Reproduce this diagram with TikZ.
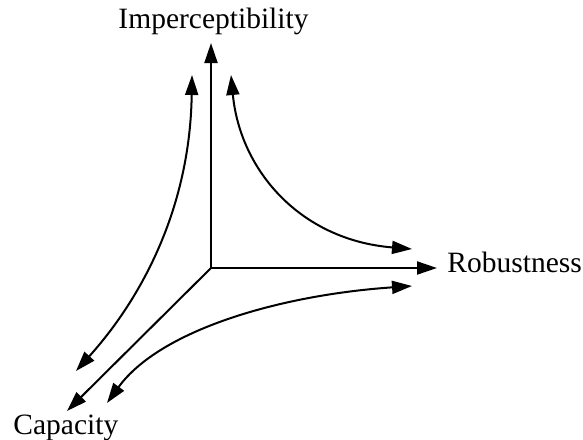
\documentclass[tikz,border=0pt]{standalone}
\usepackage{fontspec}
\setmainfont{Liberation Serif}
\usetikzlibrary{arrows.meta}

\begin{document}
\begin{tikzpicture}[x=0.5pt, y=-0.5pt,
    axis/.style={line width=1pt, -{Triangle[length=10pt, width=6.5pt]}},
    trade/.style={line width=1pt, {Triangle[length=10pt, width=6.5pt]}-{Triangle[length=10pt, width=6.5pt]}},
    label/.style={inner sep=0pt, font=\fontsize{14.75}{18}\selectfont}]

    \useasboundingbox (0,0) rectangle (583,439);

    \coordinate (O) at (211,268);
    \coordinate (top) at (211,43);
    \coordinate (right) at (437,268);
    \coordinate (corner) at (67,411);

    \node[label, anchor=base] (imp) at (213.5,28) {Imperceptibility};
    \node[label, anchor=base west] (rob) at (447,272) {Robustness};
    \node[label, anchor=base west] (cap) at (13,434) {Capacity};

    \draw[axis] (O) -- (top);
    \draw[axis] (O) -- (right);
    \draw[axis] (O) -- (corner);

    % trade-off curves
    \coordinate (a1) at (231,75);
    \coordinate (a2) at (412,249);
    \coordinate (b1) at (107,403);
    \coordinate (b2) at (412,286);
    \coordinate (c1) at (192,75);
    \coordinate (c2) at (76,371);
    \draw[trade] (a1) .. controls (240,170) and (300,240) .. (a2);
    \draw[trade] (b1) .. controls (160,330) and (280,295) .. (b2);
    \draw[trade] (c1) .. controls (190,210) and (140,300) .. (c2);
\end{tikzpicture}
\end{document}
